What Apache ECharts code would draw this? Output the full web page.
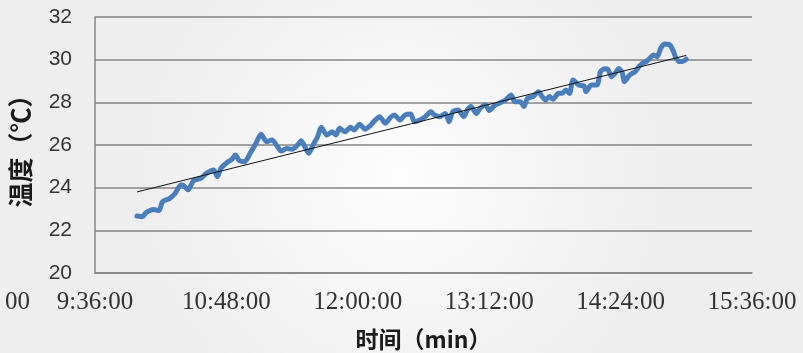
<!DOCTYPE html>
<html>
<head>
<meta charset="utf-8">
<script src="https://cdn.jsdelivr.net/npm/echarts@6/dist/echarts.min.js"></script>
<style>
  html, body { margin: 0; padding: 0; }
  #chart { width: 803px; height: 353px; }
</style>
</head>
<body>
<div id="chart"></div>
<script>
// Logged temperature readings (clock time, °C)
const times = [
  '9:59','10:02','10:04','10:08','10:11','10:13','10:17','10:20','10:23','10:24',
  '10:27','10:30','10:34','10:37','10:41','10:43','10:45','10:49','10:51','10:53',
  '10:55','10:58','11:01','11:04','11:07','11:10','11:13','11:16','11:18','11:21',
  '11:24','11:27','11:29','11:31','11:33','11:36','11:38','11:40','11:43','11:46',
  '11:48','11:50','11:53','11:56','11:58','12:01','12:04','12:07','12:09','12:12',
  '12:15','12:18','12:20','12:23','12:26','12:29','12:31','12:34','12:37','12:40',
  '12:42','12:45','12:48','12:50','12:52','12:55','12:58','13:00','13:02','13:05',
  '13:07','13:10','13:12','13:15','13:18','13:21','13:24','13:26','13:29','13:31',
  '13:33','13:36','13:39','13:41','13:43','13:45','13:47','13:50','13:52','13:54',
  '13:56','13:58','14:01','14:04','14:05','14:08','14:11','14:13','14:15','14:17',
  '14:19','14:21','14:23','14:25','14:26','14:29','14:32','14:34','14:36','14:38',
  '14:40','14:42','14:44','14:46','14:48','14:51','14:53','14:54','14:56','14:58',
  '15:00'
];
const temps = [
  22.67,22.64,22.83,22.98,22.92,23.34,23.50,23.74,24.13,24.13,
  23.90,24.33,24.44,24.67,24.83,24.51,24.91,25.22,25.33,25.53,
  25.27,25.22,25.61,26.05,26.50,26.16,26.23,25.92,25.72,25.84,
  25.80,26.00,26.20,25.92,25.61,26.08,26.39,26.83,26.47,26.62,
  26.47,26.78,26.62,26.83,26.70,26.97,26.74,26.92,27.12,27.33,
  27.02,27.30,27.41,27.17,27.41,27.45,27.09,27.17,27.33,27.56,
  27.41,27.33,27.48,27.09,27.56,27.64,27.33,27.64,27.80,27.48,
  27.72,27.88,27.62,27.85,27.98,28.11,28.34,28.03,28.03,27.80,
  28.19,28.27,28.50,28.27,28.11,28.27,28.14,28.42,28.42,28.58,
  28.42,29.05,28.81,28.77,28.50,28.81,28.81,29.44,29.57,29.55,
  29.20,29.36,29.59,29.36,28.97,29.28,29.44,29.67,29.83,29.91,
  30.06,30.22,30.14,30.53,30.73,30.69,30.38,30.14,29.91,29.91,
  30.02
];
// Linear trend line end points
const trendTimes = ['9:59', '15:00'];
const trendTemps = [23.8, 30.2];

// Axis ranges
const xMinTime = '9:36';
const xMaxTime = '15:36';
const xStepMin = 72;
const yMin = 20, yMax = 32, yStep = 2;

function toMinutes(t) {
  const [h, m] = t.split(':').map(Number);
  return h * 60 + m;
}
function fmtClock(v) {
  const h = Math.floor(v / 60);
  const m = Math.round(v % 60);
  return h + ':' + String(m).padStart(2, '0') + ':00';
}

const seriesData = times.map((t, i) => [toMinutes(t), temps[i]]);
const trendData = trendTimes.map((t, i) => [toMinutes(t), trendTemps[i]]);

const chart = echarts.init(document.getElementById('chart'), null, { renderer: 'canvas' });
const gridColor = '#858585';

chart.setOption({
  animation: false,
  backgroundColor: {
    type: 'radial', x: 0.5, y: 0.5, r: 0.75,
    colorStops: [
      { offset: 0, color: '#fdfdfd' },
      { offset: 1, color: '#eeeeee' }
    ]
  },
  grid: {
    left: 95, right: 51, top: 17, bottom: 80,
    containLabel: false,
    outerBoundsMode: 'none'
  },
  xAxis: {
    type: 'value',
    min: toMinutes(xMinTime),
    max: toMinutes(xMaxTime),
    interval: xStepMin,
    name: '时间（min）',
    nameLocation: 'middle',
    nameGap: 55,
    nameTextStyle: {
      fontFamily: 'Noto Sans CJK SC', fontWeight: 'bold', fontSize: 23, color: '#1a1a1a'
    },
    axisLine: { show: true, lineStyle: { color: gridColor, width: 1.5 } },
    axisTick: { show: false },
    splitLine: { show: false },
    axisLabel: {
      formatter: fmtClock,
      margin: 17,
      fontFamily: 'Liberation Serif',
      fontSize: 25,
      color: '#333',
      showMinLabel: true,
      showMaxLabel: true
    }
  },
  yAxis: {
    type: 'value',
    min: yMin,
    max: yMax,
    interval: yStep,
    name: '温度（℃）',
    nameLocation: 'middle',
    nameGap: 62,
    nameTextStyle: {
      fontFamily: 'Noto Sans CJK SC', fontWeight: 'bold', fontSize: 25, color: '#1a1a1a'
    },
    axisLine: { show: true, lineStyle: { color: gridColor, width: 1.5 } },
    axisTick: { show: false },
    splitLine: { show: true, lineStyle: { color: gridColor, width: 1.5 } },
    axisLabel: {
      margin: 23,
      fontFamily: 'Liberation Sans',
      fontSize: 21,
      color: '#333'
    }
  },
  graphic: [
    {
      // tail of the clipped tick label at the left edge
      type: 'text',
      left: 5,
      top: 290,
      style: { text: '00', font: '25px "Liberation Serif"', fill: '#333' }
    }
  ],
  series: [
    {
      type: 'line',
      data: seriesData,
      showSymbol: false,
      smooth: 0.25,
      lineStyle: { color: '#4a7ebb', width: 5, cap: 'round', join: 'round' },
      z: 2
    },
    {
      type: 'line',
      data: trendData,
      showSymbol: false,
      lineStyle: { color: '#111', width: 1 },
      z: 3
    }
  ]
});
</script>
</body>
</html>
